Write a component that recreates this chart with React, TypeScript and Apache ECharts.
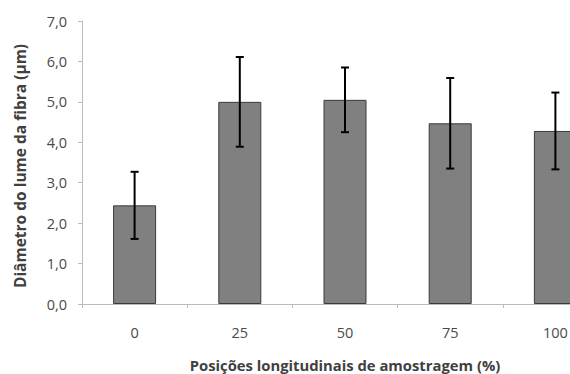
import React, { useEffect, useRef } from "react";
import * as echarts from "echarts";

const categories = ["0", "25", "50", "75", "100"];
const means = [2.44, 5.0, 5.05, 4.47, 4.28];
const errors = [0.83, 1.11, 0.8, 1.12, 0.95];
const yTicks = [0, 1, 2, 3, 4, 5, 6, 7];

const FONT = "'Open Sans', 'Noto Sans', sans-serif";

export default function App() {
  const ref = useRef<HTMLDivElement>(null);
  useEffect(() => {
    if (!ref.current) return;
    const chart = echarts.init(ref.current, undefined, { renderer: "svg" });
    const errData = categories.map((_, i) => [i, means[i] - errors[i], means[i] + errors[i]]);
    chart.setOption({
      animation: false,
      backgroundColor: "#ffffff",
      grid: { left: 82, top: 21, width: 526, height: 283, containLabel: false, outerBoundsMode: "none" },
      xAxis: {
        type: "category",
        data: categories,
        name: "Posições longitudinais de amostragem (%)",
        nameLocation: "middle",
        nameGap: 53,
        nameTextStyle: { fontFamily: FONT, fontSize: 14.8, fontWeight: "bold", color: "#404040" },
        axisLine: { show: true, lineStyle: { color: "#bcbcbc", width: 1 } },
        axisTick: { show: true, length: 4, lineStyle: { color: "#bcbcbc" } },
        axisLabel: { margin: 21, fontFamily: FONT, fontSize: 14.5, color: "#4a4a4a" },
        splitLine: { show: false },
      },
      yAxis: {
        type: "value",
        min: yTicks[0],
        max: yTicks[yTicks.length - 1],
        interval: 1,
        axisLine: { show: true, lineStyle: { color: "#bcbcbc", width: 1 } },
        axisTick: { show: true, length: 4, lineStyle: { color: "#bcbcbc" } },
        axisLabel: {
          margin: 15,
          fontFamily: FONT,
          fontSize: 14.5,
          color: "#4a4a4a",
          formatter: (v: number) => v.toFixed(1).replace(".", ","),
        },
        splitLine: { show: false },
      },
      graphic: [
        {
          type: "text",
          x: 20,
          y: 166,
          rotation: Math.PI / 2,
          style: {
            text: "Diâmetro do lume da fibra (µm)",
            fontFamily: FONT,
            fontSize: 15.5,
            fontWeight: "bold",
            fill: "#404040",
            align: "center",
            verticalAlign: "middle",
          },
        },
      ],
      series: [
        {
          type: "bar",
          data: means,
          barWidth: 43,
          itemStyle: { color: "#808080", borderColor: "#3a3a3a", borderWidth: 1 },
        },
        {
          type: "custom",
          data: errData,
          z: 10,
          renderItem: (params: any, api: any) => {
            const x = api.value(0);
            const lo = api.coord([x, api.value(1)]);
            const hi = api.coord([x, api.value(2)]);
            const half = 4;
            const style = { stroke: "#000000", lineWidth: 2 };
            return {
              type: "group",
              children: [
                { type: "line", shape: { x1: lo[0], y1: lo[1], x2: hi[0], y2: hi[1] }, style },
                { type: "line", shape: { x1: lo[0] - half, y1: lo[1], x2: lo[0] + half, y2: lo[1] }, style },
                { type: "line", shape: { x1: hi[0] - half, y1: hi[1], x2: hi[0] + half, y2: hi[1] }, style },
              ],
            };
          },
        },
      ],
    });
    return () => chart.dispose();
  }, []);
  return <div ref={ref} style={{ width: 570, height: 374, position: "absolute", left: 0, top: 0 }} />;
}
